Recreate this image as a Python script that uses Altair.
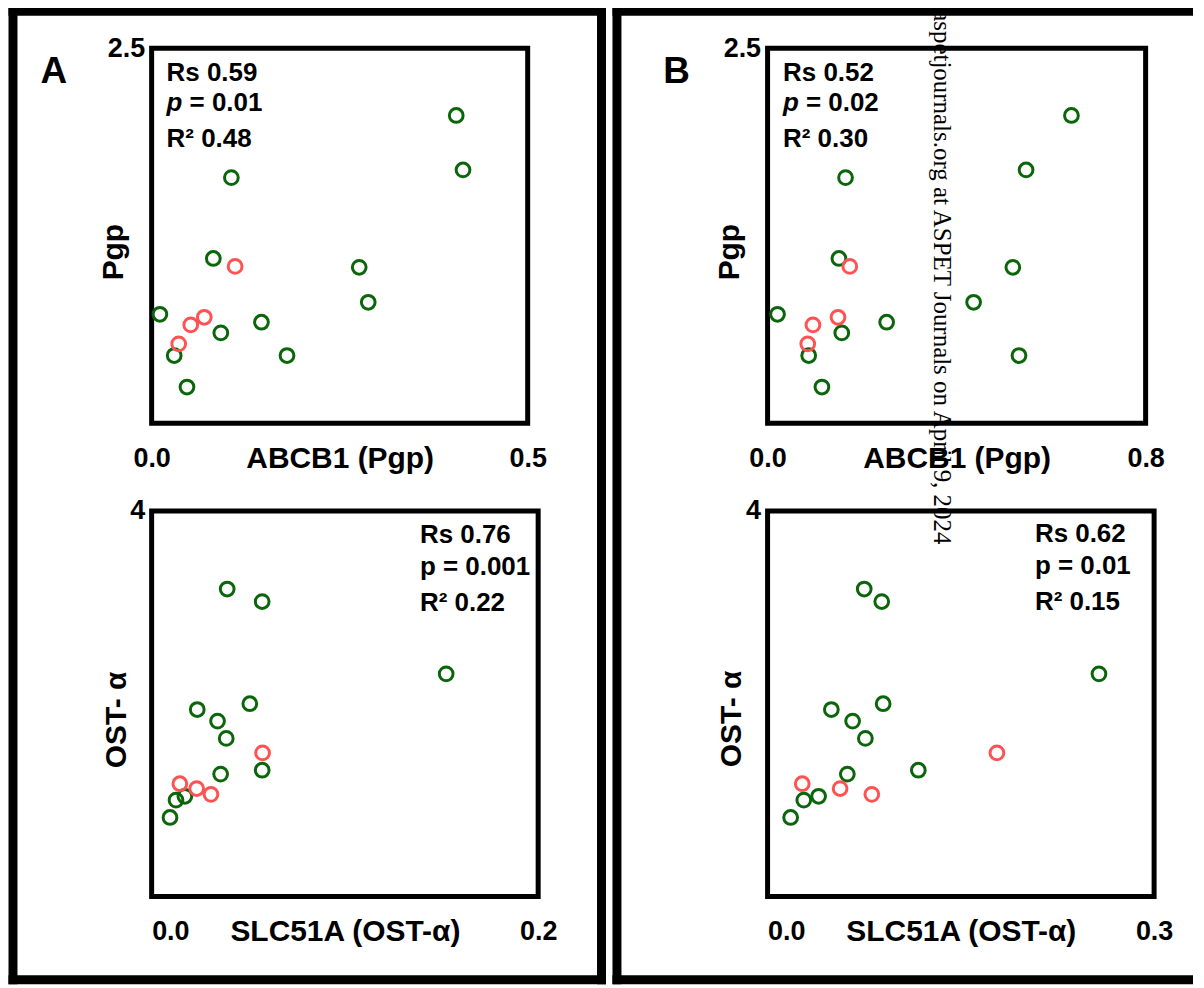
import altair as alt
import pandas as pd

GREEN = "#0b650b"
RED = "#ff5252"
SANS = "Liberation Sans"
SERIF = "Liberation Serif"

# group of each sample (12 green, 4 red)
groups = ["g"] * 12 + ["r"] * 4

# Pgp protein (y) vs ABCB1 mRNA (x), panels A and B
pgp_y = [2.051, 1.688, 1.637, 1.098, 1.039, 0.806, 0.726, 0.673, 0.602, 0.451, 0.451, 0.241,
         1.045, 0.706, 0.655, 0.529]
abcb1_a = [0.405, 0.414, 0.106, 0.082, 0.276, 0.288, 0.011, 0.146, 0.092, 0.030, 0.180, 0.047,
           0.111, 0.070, 0.052, 0.036]
abcb1_b = [0.643, 0.547, 0.165, 0.151, 0.519, 0.436, 0.021, 0.252, 0.157, 0.087, 0.532, 0.115,
           0.174, 0.149, 0.096, 0.085]

# OST-alpha protein (y) vs SLC51A mRNA (x)
ost_y = [3.19, 3.06, 2.31, 2.00, 1.94, 1.82, 1.64, 1.31, 1.27, 1.04, 1.00, 0.82,
         1.49, 1.17, 1.12, 1.06]
slc_a = [0.0391, 0.0572, 0.1524, 0.0508, 0.0236, 0.0341, 0.0386, 0.0572, 0.0357, 0.0172, 0.0126, 0.0095,
         0.0574, 0.0146, 0.0233, 0.0307]
slc_b = [0.0750, 0.0886, 0.2572, 0.0897, 0.0495, 0.0660, 0.0759, 0.1170, 0.0619, 0.0396, 0.0281, 0.0179,
         0.1780, 0.0269, 0.0563, 0.0809]

x_titles = ["ABCB1 (Pgp)", "SLC51A (OST-\u03b1)"]
y_titles = ["Pgp", "OST- \u03b1"]
stats_a_top = ["Rs 0.59", "p", "= 0.01", "R\u00b2 0.48"]
stats_b_top = ["Rs 0.52", "p", "= 0.02", "R\u00b2 0.30"]
stats_a_bot = ["Rs 0.76", "p = 0.001", "R\u00b2 0.22"]
stats_b_bot = ["Rs 0.62", "p = 0.01", "R\u00b2 0.15"]
watermark = "aspetjournals.org at ASPET Journals on April 9, 2024"

one = pd.DataFrame({"k": [0]})


def txt(s, x, y, size=26, style="normal", font=SANS, weight="bold", angle=0):
    return alt.Chart(one).mark_text(
        text=s, fontSize=size, font=font, fontWeight=weight, fontStyle=style,
        align="left", baseline="alphabetic", angle=angle, color="black"
    ).encode(x=alt.value(x), y=alt.value(y))


def bar(x1, x2, y1, y2):
    # a solid black frame segment (no stroke, so its bounds are exact)
    return alt.Chart(one).mark_rect(color="black", strokeWidth=0).encode(
        x=alt.value(x1), x2=alt.value(x2), y=alt.value(y1), y2=alt.value(y2))


def scatter(xv, yv, xmax, ymax, xtitle, ytitle, yfmt, w, h, ytx, yty, first_left):
    df = pd.DataFrame({"x": xv, "y": yv, "grp": groups})
    lalign = ({"condition": {"test": "datum.value == 0", "value": "left"}, "value": "center"}
              if first_left else "center")
    xa = alt.Axis(values=[0, xmax], format=".1f", title=xtitle, labelFlush=False,
                  labelAlign=lalign, labelBaseline="alphabetic", labelPadding=43.5,
                  titleX=w / 2, titleY=44.5, titleAlign="center", titleBaseline="alphabetic",
                  titleAngle=0)
    ya = alt.Axis(values=[ymax], format=yfmt, title=ytitle, labelFlush=False,
                  labelAlign="right", labelBaseline="middle", labelPadding=7,
                  titleAngle=270, titleX=ytx, titleY=yty, titleAlign="center",
                  titleBaseline="alphabetic")
    return alt.Chart(df).mark_point(filled=False, size=190, strokeWidth=3, opacity=1).encode(
        x=alt.X("x:Q", scale=alt.Scale(domain=[0, xmax], nice=False, zero=True), axis=xa),
        y=alt.Y("y:Q", scale=alt.Scale(domain=[0, ymax], nice=False, zero=True), axis=ya),
        color=alt.Color("grp:N", scale=alt.Scale(domain=["g", "r"], range=[GREEN, RED]), legend=None),
    )


# ---- A top ----
a1 = alt.layer(
    bar(-143.5, -134.5, -41.5, 938.5),
    bar(446.5, 455.5, -41.5, 938.5),
    bar(-143.5, 455.5, -41.5, -32.5),
    bar(-143.5, 455.5, 929.5, 938.5),
    txt("A", -111.5, 34.5, size=37),
    txt(stats_a_top[0], 15, 32.5),
    txt(stats_a_top[1], 15, 63.5, style="italic"),
    txt(stats_a_top[2], 38, 63.5),
    txt(stats_a_top[3], 15, 99.5),
    scatter(abcb1_a, pgp_y, 0.5, 2.5, x_titles[0], y_titles[0], ".1f", 377, 376, -29, 204, False),
).properties(width=377, height=376)

# ---- B top ----
b1 = alt.layer(
    bar(-155.5, -146.5, -41.5, 938.5),
    bar(-155.5, 426.5, -41.5, -32.5),
    bar(-155.5, 426.5, 929.5, 938.5),
    txt("B", -104.5, 34.5, size=37),
    txt(stats_b_top[0], 15.5, 32.5),
    txt(stats_b_top[1], 15.5, 63.5, style="italic"),
    txt(stats_b_top[2], 38.5, 63.5),
    txt(stats_b_top[3], 15.5, 99.5),
    scatter(abcb1_b, pgp_y, 0.8, 2.5, x_titles[0], y_titles[0], ".1f", 379, 376, -29, 204, False),
).properties(width=379, height=376)

# ---- A bottom ----
a2 = alt.layer(
    txt(stats_a_bot[0], 269, 32.5),
    txt(stats_a_bot[1], 269, 64.5),
    txt(stats_a_bot[2], 269, 100.5),
    scatter(slc_a, ost_y, 0.2, 4, x_titles[1], y_titles[1], "d", 387.5, 386.5, -26, 209, True),
).properties(width=387.5, height=386.5)

# ---- B bottom ----
b2 = alt.layer(
    txt(stats_b_bot[0], 268, 31),
    txt(stats_b_bot[1], 268, 63),
    txt(stats_b_bot[2], 268, 99.5),
    scatter(slc_b, ost_y, 0.3, 4, x_titles[1], y_titles[1], "d", 387.5, 386.5, -27, 208, True),
    txt(watermark, 167, -502, size=25, font=SERIF, weight="normal", angle=90),
).properties(width=387.5, height=386.5)

chart = alt.concat(
    a1, b1, a2, b2, columns=2, spacing={"row": 88, "column": 229.5}, bounds="flush"
).properties(
    padding={"left": -2, "top": -5, "right": 0, "bottom": 0}
).configure_view(
    stroke="black", strokeWidth=5
).configure_axis(
    domain=False, ticks=False, grid=False,
    labelFont=SANS, labelFontSize=27, labelFontWeight="bold", labelColor="black",
    titleFont=SANS, titleFontSize=30, titleFontWeight="bold", titleColor="black",
)

chart.save("out.html", embed_options={"renderer": "svg", "actions": False})
